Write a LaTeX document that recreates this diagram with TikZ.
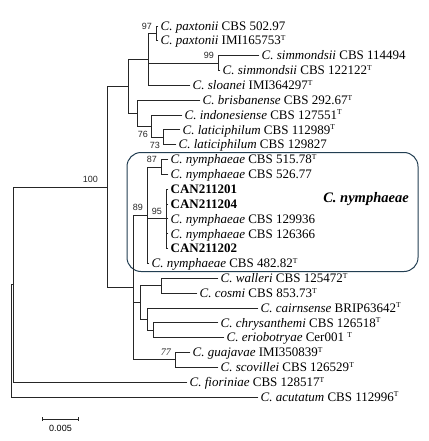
\documentclass[tikz,border=0pt]{standalone}
\usepackage{fontspec}
\setmainfont{Liberation Serif}
\newfontfamily\bootfont{Liberation Sans}
\usepackage{tikz}
\usetikzlibrary{arrows.meta}
\definecolor{boxblue}{RGB}{34,62,82}
\newcommand{\typ}{\raisebox{4.3pt}{\fontsize{7.5}{8}\selectfont T}}

\begin{document}
\begin{tikzpicture} [x=1pt, y=-1pt,
		tree/.style={draw=black!85, line width=0.95pt, line cap=rect},
		elbow/.style={to path={|- (\tikztotarget)}},
		taxon/.style={anchor=west, inner xsep=2.5pt, inner ysep=0pt, text height=10.6pt, text depth=2.2pt,
		font=\fontsize{13}{14}\selectfont},
		boot/.style={anchor=south east, inner sep=0pt, xshift=-4pt, yshift=4pt,
		font=\bootfont\fontsize{9}{10}\selectfont, text=black!85},
		bootlow/.style={anchor=north east, inner sep=0pt, xshift=-3pt, yshift=-5pt,
		font=\bootfont\fontsize{9}{10}\selectfont, text=black!85}]
		\useasboundingbox (0,0) rectangle (428,441);

		% Leaves: one row every 14.84 units
		\node (pax1) [taxon] at (158, 26.0) {\textit{C. paxtonii} CBS 502.97};
		\node (pax2) [taxon] at (158, 40.8) {\textit{C. paxtonii} IMI165753\typ};
		\node (sim1) [taxon] at (259, 55.7) {\textit{C. simmondsii} CBS 114494};
		\node (sim2) [taxon] at (220, 70.5) {\textit{C. simmondsii} CBS 122122\typ};
		\node (slo) [taxon] at (190, 85.4) {\textit{C. sloanei} IMI364297\typ};
		\node (bri) [taxon] at (200, 100.2) {\textit{C. brisbanense} CBS 292.67\typ};
		\node (ind) [taxon] at (182, 115.0) {\textit{C. indonesiense} CBS 127551\typ};
		\node (lat1) [taxon] at (180, 129.9) {\textit{C. laticiphilum} CBS 112989\typ};
		\node (lat2) [taxon] at (176, 144.7) {\textit{C. laticiphilum} CBS 129827};
		\node (nym1) [taxon] at (168, 159.6) {\textit{C. nymphaeae} CBS 515.78\typ};
		\node (nym2) [taxon] at (168, 174.4) {\textit{C. nymphaeae} CBS 526.77};
		\node (can1) [taxon] at (168, 189.2) {\textbf{CAN211201}};
		\node (can4) [taxon] at (168, 204.1) {\textbf{CAN211204}};
		\node (nym3) [taxon] at (168, 218.9) {\textit{C. nymphaeae} CBS 129936};
		\node (nym4) [taxon] at (168, 233.8) {\textit{C. nymphaeae} CBS 126366};
		\node (can2) [taxon] at (168, 248.6) {\textbf{CAN211202}};
		\node (nym5) [taxon] at (149, 263.4) {\textit{C. nymphaeae} CBS 482.82\typ};
		\node (wal) [taxon] at (218, 278.3) {\textit{C. walleri} CBS 125472\typ};
		\node (cos) [taxon] at (197, 293.1) {\textit{C. cosmi} CBS 853.73\typ};
		\node (cai) [taxon] at (258, 308.0) {\textit{C. cairnsense} BRIP63642\typ};
		\node (chr) [taxon] at (218, 322.8) {\textit{C. chrysanthemi} CBS 126518\typ};
		\node (eri) [taxon] at (224, 337.6) {\textit{C. eriobotryae} Cer001 \typ};
		\node (gua) [taxon] at (190, 352.5) {\textit{C. guajavae} IMI350839\typ};
		\node (sco) [taxon] at (218, 367.3) {\textit{C. scovillei} CBS 126529\typ};
		\node (fio) [taxon] at (187, 382.2) {\textit{C. fioriniae} CBS 128517\typ};
		\node (acu) [taxon] at (258, 397.0) {\textit{C. acutatum} CBS 112996\typ};

		% Inner nodes of the tree
		\coordinate (nR) at (11, 340.8);
		\coordinate (nA) at (13, 284.6);
		\coordinate (nB) at (107, 187.0);
		\coordinate (nC) at (128, 86.3);
		\coordinate (nE) at (148, 59.4);
		\coordinate (nPax) at (156, 33.4);
		\coordinate (nSim) at (218, 63.1);
		\coordinate (nF) at (137, 113.2);
		\coordinate (nG) at (151, 126.2);
		\coordinate (nH) at (163, 137.3);
		\coordinate (nD) at (133, 287.6);
		\coordinate (nN) at (147, 215.2);
		\coordinate (n87) at (161, 167.0);
		\coordinate (n95) at (166, 218.9);
		\coordinate (nI) at (140, 302.4);
		\coordinate (nJ) at (161, 285.7);
		\coordinate (nK) at (147, 319.1);
		\coordinate (nL) at (153, 330.2);
		\coordinate (nM) at (175, 359.9);

		% Clade box
		\draw [boxblue, line width=1pt, rounded corners=14pt] (127,152.5) rectangle (418,271.5);
		\node (clade) [font=\fontsize{14.5}{16}\selectfont\bfseries\itshape] at (366, 199) {C. nymphaeae};

		% Draw Branches
		\path [tree]
		(nR) edge [elbow] (nA)
		(nR) edge [elbow] (acu.west)
		(nA) edge [elbow] (nB)
		(nA) edge [elbow] (fio.west)
		(nB) edge [elbow] (nC)
		(nB) edge [elbow] (nD)

		(nC) edge [elbow] (nE)
		(nC) edge [elbow] (nF)
		(nE) edge [elbow] (nPax)
		(nE) edge [elbow] (nSim)
		(nE) edge [elbow] (slo.west)
		(nPax) edge [elbow] (pax1.west)
		(nPax) edge [elbow] (pax2.west)
		(nSim) edge [elbow] (sim1.west)
		(nSim) edge [elbow] (sim2.west)
		(nF) edge [elbow] (bri.west)
		(nF) edge [elbow] (nG)
		(nG) edge [elbow] (ind.west)
		(nG) edge [elbow] (nH)
		(nH) edge [elbow] (lat1.west)
		(nH) edge [elbow] (lat2.west)

		(nD) edge [elbow] (nN)
		(nD) edge [elbow] (nI)
		(nD) edge [elbow] (nM)
		(nN) edge [elbow] (n87)
		(nN) edge [elbow] (n95)
		(nN) edge [elbow] (nym5.west)
		(n87) edge [elbow] (nym1.west)
		(n87) edge [elbow] (nym2.west)
		(n95) edge [elbow] (can1.west)
		(n95) edge [elbow] (can4.west)
		(n95) edge [elbow] (nym3.west)
		(n95) edge [elbow] (nym4.west)
		(n95) edge [elbow] (can2.west)
		(nI) edge [elbow] (nJ)
		(nI) edge [elbow] (nK)
		(nJ) edge [elbow] (wal.west)
		(nJ) edge [elbow] (cos.west)
		(nK) edge [elbow] (cai.west)
		(nK) edge [elbow] (nL)
		(nL) edge [elbow] (chr.west)
		(nL) edge [elbow] (eri.west)
		(nM) edge [elbow] (gua.west)
		(nM) edge [elbow] (sco.west);

		% Bootstrap values
		\node (b97) [boot] at (nPax) {97};
		\node (b99) [boot] at (nSim) {99};
		\node (b100) [boot, xshift=-5pt] at (nB) {100};
		\node (b76) [bootlow] at (nG) {76};
		\node (b73) [bootlow] at (nH) {73};
		\node (b87) [boot] at (n87) {87};
		\node (b89) [boot] at (nN) {89};
		\node (b95) [boot] at (n95) {95};
		\node (b77) [boot, font=\itshape\fontsize{10}{10}\selectfont] at (nM) {77};

		% Scale bar
		\coordinate (sbL) at (42, 419);
		\coordinate (sbR) at (79, 419);
		\draw [tree, {Bar[width=4pt]}-{Bar[width=4pt]}] (sbL) -- (sbR)
		node (sbText) [midway, below=2pt, font=\bootfont\fontsize{9}{10}\selectfont] {0.005};
	\end{tikzpicture}
\end{document}
